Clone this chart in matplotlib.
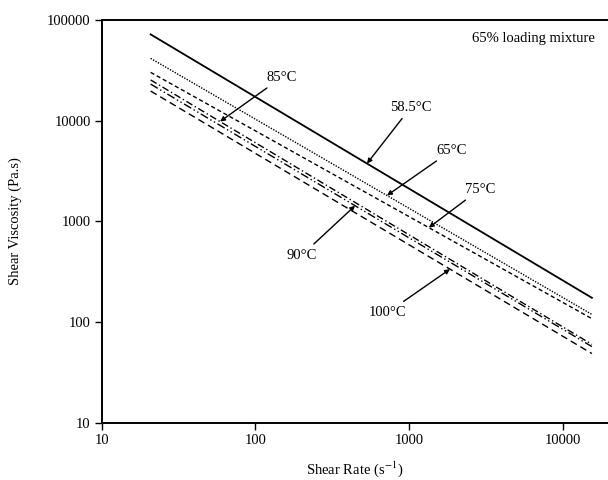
import numpy as np
import matplotlib.pyplot as plt
from matplotlib.ticker import FixedLocator, FixedFormatter, NullLocator

plt.rcParams['font.family'] = ['Liberation Serif', 'DejaVu Serif']
plt.rcParams['mathtext.fontset'] = 'stix'

# end points of each power-law line
shear_rate = [20.8, 15400]
temps = ["58.5", "65", "75", "85", "90", "100"]
visc_start = [72000, 41600, 30200, 25400, 23100, 19700]
visc_end = [174, 119, 108, 60, 57, 48.6]

# label placement: (shear rate the arrow points at, text x, text y)
label_arrow_x = [531, 716, 1340, 58.8, 444, 1840]
label_text_x = [1026, 1897, 2885, 149, 200, 727]
label_text_y = [13650, 5100, 2090, 27100, 461, 125]

styles = ["-", (0, (1, 1)), (0, (3, 2)), (0, (5, 2, 1, 2)),
          (0, (6, 2, 1, 2, 1, 2)), (0, (5, 3))]
widths = [1.3, 1.0, 1.0, 1.0, 1.0, 1.0]

fig = plt.figure(figsize=(6.08, 4.80), dpi=100)
ax = fig.add_axes([0.1673, 0.1194, 0.8327, 0.8389])
ax.set_xscale("log")
ax.set_yscale("log")
ax.set_xlim(10, 19600)
ax.set_ylim(10, 100000)


def on_line(i, x):
    lx0, lx1 = np.log10(shear_rate)
    ly0, ly1 = np.log10(visc_start[i]), np.log10(visc_end[i])
    return 10 ** (ly0 + (ly1 - ly0) * (np.log10(x) - lx0) / (lx1 - lx0))


for i, t in enumerate(temps):
    ax.plot(shear_rate, [visc_start[i], visc_end[i]], color="black",
            linestyle=styles[i], lw=widths[i])
    tx = label_arrow_x[i]
    ax.annotate(t + "°C", xy=(tx, on_line(i, tx)),
                xytext=(label_text_x[i], label_text_y[i]),
                ha="center", va="center", fontsize=10.5,
                arrowprops=dict(arrowstyle="-|>", color="black", lw=1.0,
                                mutation_scale=7, shrinkA=2, shrinkB=0))

ax.text(0.975, 0.953, "65% loading mixture", transform=ax.transAxes,
        ha="right", va="center", fontsize=10.5)

xt = [10, 100, 1000, 10000]
yt = [10, 100, 1000, 10000, 100000]
ax.xaxis.set_major_locator(FixedLocator(xt))
ax.xaxis.set_major_formatter(FixedFormatter([str(v) for v in xt]))
ax.yaxis.set_major_locator(FixedLocator(yt))
ax.yaxis.set_major_formatter(FixedFormatter([str(v) for v in yt]))
ax.xaxis.set_minor_locator(NullLocator())
ax.yaxis.set_minor_locator(NullLocator())
ax.tick_params(direction="out", length=5, width=1, labelsize=10.5, pad=3)

ax.spines["right"].set_visible(False)
for s in ["top", "left", "bottom"]:
    ax.spines[s].set_linewidth(1.4)

ax.set_xlabel("Shear Rate (s$^{-1}$)", fontsize=10.5, labelpad=9)
ax.set_ylabel("Shear Viscosity (Pa.s)", fontsize=10.5, labelpad=18)

fig.savefig("out.png", dpi=100)
